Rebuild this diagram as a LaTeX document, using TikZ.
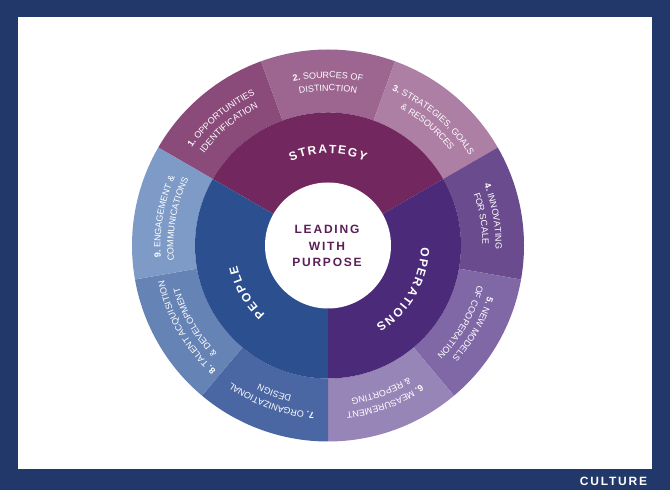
\documentclass[tikz,border=0pt]{standalone}
\usepackage{fontspec}
\setmainfont{Liberation Sans}
\newfontfamily\spaced[LetterSpace=15]{Liberation Sans}
\usetikzlibrary{decorations.text}
\definecolor{navy}{HTML}{22386A}
\definecolor{segA}{HTML}{8A4A7A}
\definecolor{segB}{HTML}{9C6690}
\definecolor{segC}{HTML}{AE7FA4}
\definecolor{segD}{HTML}{6A4B8E}
\definecolor{segE}{HTML}{8068A6}
\definecolor{segF}{HTML}{9885B8}
\definecolor{segG}{HTML}{4A67A3}
\definecolor{segH}{HTML}{6683B5}
\definecolor{segI}{HTML}{7E9AC6}
\definecolor{strat}{HTML}{72285E}
\definecolor{oper}{HTML}{4B2A79}
\definecolor{peop}{HTML}{2C4F90}
\definecolor{ctext}{HTML}{5B1F55}
\newcommand\lblfont{\fontsize{9}{10}\selectfont}
\newcommand\ringfont{\fontsize{12}{13}\selectfont\bfseries}
\newcommand\segtext[3]{%
  \path[decorate,decoration={text along path,text color=white,text align=center,text={#2}}]
    ({#1+21}:167.5) arc[start angle={#1+21},end angle={#1-21},radius=167.5];
  \path[decorate,decoration={text along path,text color=white,text align=center,text={|\lblfont|#3}}]
    ({#1+21}:154.5) arc[start angle={#1+21},end angle={#1-21},radius=154.5];
}
\newcommand\ringlabel[4]{% start angle, end angle, radius, text
  \path[decorate,decoration={text along path,text color=white,text align={fit to path},text={|\ringfont|#4}}]
    (#1:#3) arc[start angle=#1,end angle=#2,radius=#3];
}
\tikzset{
  segfill/.style={fill=#1,draw=none},
  bandtext/.style={text=white,font=\spaced\bfseries\fontsize{12}{14}\selectfont,inner sep=0pt},
  centertext/.style={text=ctext,align=center,font=\spaced\bfseries\fontsize{12}{16.5}\selectfont,inner sep=0pt}
}
\begin{document}
\begin{tikzpicture}[x=1pt,y=1pt]
\useasboundingbox (0,0) rectangle (670,490);
\fill[navy] (0,0) rectangle (670,490);
\fill[white] (18,21) rectangle (652,473);
\node[bandtext] (culture) at (613.5,9) {CULTURE};
\begin{scope}[shift={(328,244.5)}]
  % outer ring
  \foreach \a/\c in {130/segA,90/segB,50/segC,10/segD,-30/segE,-70/segF,-110/segG,-150/segH,170/segI}{
    \fill[segfill=\c] ({\a+20}:133) arc[start angle={\a+20},end angle={\a-20},radius=133]
      -- ({\a-20}:196) arc[start angle={\a-20},end angle={\a+20},radius=196] -- cycle;
  }
  % inner ring
  \fill[segfill=strat] (0,0) -- (150:133) arc[start angle=150,end angle=30,radius=133] -- cycle;
  \fill[segfill=oper] (0,0) -- (30:133) arc[start angle=30,end angle=-90,radius=133] -- cycle;
  \fill[segfill=peop] (0,0) -- (-90:133) arc[start angle=-90,end angle=-210,radius=133] -- cycle;
  \fill[white] (0,0) circle[radius=63];
  \node[centertext] (lead) at (-1,-0.5) {LEADING\\WITH\\PURPOSE};
  % ring labels
  \ringlabel{113.8}{66.2}{92}{STRATEGY}
  \ringlabel{-1}{-59}{93}{OPERATIONS}
  \ringlabel{227.6}{192.4}{93}{PEOPLE}
  % outer labels
  \segtext{130}{|\lblfont\bfseries|1. |\lblfont|OPPORTUNITIES}{IDENTIFICATION}
  \segtext{90}{|\lblfont\bfseries|2. |\lblfont|SOURCES OF}{DISTINCTION}
  \segtext{50}{|\lblfont\bfseries|3. |\lblfont|STRATEGIES, GOALS}{{\&} RESOURCES}
  \segtext{10}{|\lblfont\bfseries|4. |\lblfont|INNOVATING}{FOR SCALE}
  \segtext{-30}{|\lblfont\bfseries|5. |\lblfont|NEW MODELS}{OF COOPERATION}
  \segtext{-70}{|\lblfont\bfseries|6. |\lblfont|MEASUREMENT}{{\&} REPORTING}
  \segtext{-110}{|\lblfont\bfseries|7. |\lblfont|ORGANIZATIONAL}{DESIGN}
  \segtext{-150}{|\lblfont\bfseries|8. |\lblfont|TALENT ACQUISITION}{{\&} DEVELOPMENT}
  \segtext{170}{|\lblfont\bfseries|9. |\lblfont|ENGAGEMENT {\&}}{COMMUNICATIONS}
\end{scope}
\end{tikzpicture}
\end{document}
